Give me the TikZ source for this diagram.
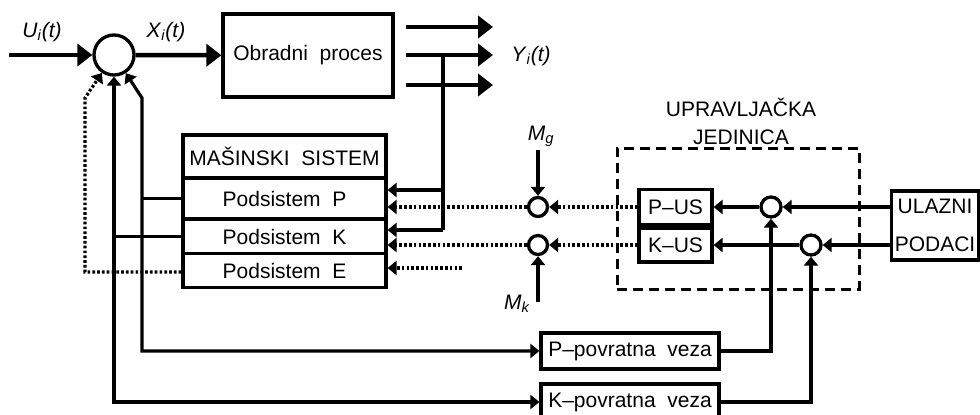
\documentclass[tikz,border=0pt]{standalone}
\usepackage{fontspec}
\setmainfont{Liberation Sans}
\usetikzlibrary{arrows.meta,calc}

\newcommand\sigvar[2]{\textit{#1}\textsubscript{\textit{#2}}\textit{(t)}}
\newcommand\mvar[1]{\textit{M}\textsubscript{\textit{#1}}}

\begin{document}
\begin{tikzpicture}[x=1pt,y=-1pt,
  every node/.style={font=\fontsize{21}{24}\selectfont},
  blk/.style={draw, line width=3.2pt, inner sep=0pt},
  sumc/.style={draw, circle, line width=3.3pt, inner sep=0pt},
  heavy/.style={line width=4.5pt},
  wire/.style={line width=3.2pt},
  dots/.style={line width=3.2pt, dash pattern=on 2.7pt off 2.1pt},
  bigtip/.style={-{Triangle[length=15pt,width=22pt]}},
  tip/.style={-{Triangle[length=9pt,width=14pt]}},
  twotip/.style={{Triangle[length=9pt,width=14pt]}-{Triangle[length=9pt,width=14pt]}},
]
\useasboundingbox (0,0) rectangle (980,415);

% ---- main process chain ----
\node[sumc, minimum size=40pt] (sum) at (114,55) {};
\node[blk, minimum width=170pt, minimum height=83pt] (proc) at (308,55.5) {Obradni\ \ proces};
\coordinate (uin) at (9,55);
\node (ulab) at (42,32) {\sigvar{U}{i}};
\node (xlab) at (166,32) {\sigvar{X}{i}};
\draw[heavy,bigtip] (uin) -- (sum);
\draw[heavy,bigtip] (sum) -- (proc);

% outputs
\coordinate (o1) at (406,27);  \coordinate (o1e) at (493,27);
\coordinate (o2) at (406,55);  \coordinate (o2e) at (493,55);
\coordinate (o3) at (406,85);  \coordinate (o3e) at (493,85);
\draw[heavy,bigtip] (o1) -- (o1e);
\draw[heavy,bigtip] (o2) -- (o2e);
\draw[heavy,bigtip] (o3) -- (o3e);
\node (ylab) at (531,56) {\sigvar{Y}{i}};

% ---- machine system ----
\node[blk, minimum width=203pt, minimum height=43pt] (ms) at (284.5,156.5) {MAŠINSKI\ \ SISTEM};
\node[blk, minimum width=203pt, minimum height=41pt] (sp) at (284.5,198.5) {Podsistem\ \ P};
\node[blk, minimum width=203pt, minimum height=34pt] (sk) at (284.5,236.5) {Podsistem\ \ K};
\node[blk, minimum width=203pt, minimum height=34pt] (se) at (284.5,270.5) {Podsistem\ \ E};

% process outputs back into the machine system
\coordinate (j0) at (443,55);
\coordinate (j1) at (443,190);
\coordinate (j2) at (443,230);
\draw[wire] (j0) -- (j2);
\draw[wire,tip] (j1) -- (j1 -| sp.east);
\draw[wire,tip] (j2) -- (j2 -| sk.east);
\coordinate (eo) at (462,268);
\draw[dots,tip] (eo) -- (eo -| se.east);

% ---- disturbance summing points ----
\node[sumc, minimum size=19pt] (mg) at (538,207) {};
\node[sumc, minimum size=19pt] (mk) at (538,245) {};
\node (mglab) at (541,136) {\mvar{g}};
\node (mklab) at (517,304) {\mvar{k}};
\coordinate (mgtop) at (538,150);
\coordinate (mkbot) at (538,302);
\draw[wire,tip] (mgtop) -- (mg);
\draw[wire,tip] (mkbot) -- (mk);
\draw[dots,tip] (mg) -- (mg -| sp.east);
\draw[dots,tip] (mk) -- (mk -| sk.east);

% ---- control unit ----
\node[draw, line width=3pt, dash pattern=on 10pt off 6pt, minimum width=242pt, minimum height=141pt] (cu) at (738,218.5) {};
\node[align=center, font=\fontsize{21}{28}\selectfont] (cutitle) at (741,121) {UPRAVLJAČKA\\JEDINICA};
\node[blk, minimum width=73pt, minimum height=35pt] (pus) at (675.5,207) {P\textendash US};
\node[blk, minimum width=73pt, minimum height=34pt] (kus) at (675.5,245) {K\textendash US};
\node[sumc, minimum size=20pt] (cp) at (771,207) {};
\node[sumc, minimum size=20pt] (ck) at (811,245) {};
\node[blk, minimum width=87pt, minimum height=69pt, align=center,
      font=\fontsize{21}{38}\selectfont] (ul) at (935,225.5) {ULAZNI\\PODACI};
\draw[wire,tip] (cp -| ul.west) -- (cp);
\draw[wire,tip] (ck -| ul.west) -- (ck);
\draw[wire,tip] (cp) -- (cp -| pus.east);
\draw[wire,tip] (ck) -- (ck -| kus.east);
\draw[dots,tip] (pus) -- (mg);
\draw[dots,tip] (kus) -- (mk);

% ---- feedback paths ----
\node[blk, minimum width=178pt, minimum height=36pt] (ppv) at (630,351) {P\textendash povratna\ \ veza};
\node[blk, minimum width=178pt, minimum height=36pt] (kpv) at (630,402) {K\textendash povratna\ \ veza};
\coordinate (pc) at (142,351);
\coordinate (pt) at (142,98);
\coordinate (kc) at (114,402);
\coordinate (dl) at (85,272);
\coordinate (dt) at (85,98);
\draw[wire,twotip] (sum) -- (pt) -- (pc) -- (ppv);
\draw[wire,twotip] (sum) -- (kc) -- (kpv);
\draw[wire] (sp.west) -- (sp.west -| pc);
\draw[wire] (sk.west) -- (sk.west -| kc);
\draw[dots,tip] (se.west |- dl) -- (dl) -- (dt) -- (sum);
\draw[wire,tip] (ppv) -- (ppv -| cp) -- (cp);
\draw[wire,tip] (kpv) -- (kpv -| ck) -- (ck);
\end{tikzpicture}
\end{document}
